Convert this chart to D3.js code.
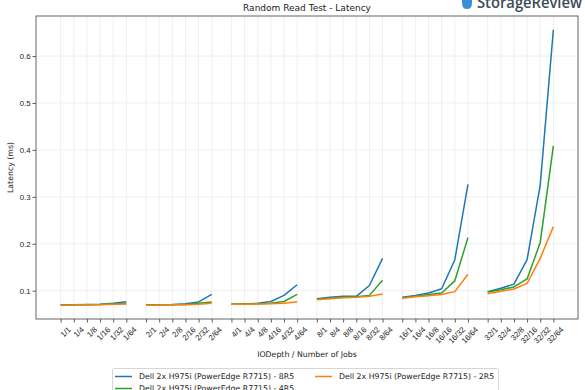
<!DOCTYPE html>
<html>
<head>
<meta charset="utf-8">
<script src="https://cdn.jsdelivr.net/npm/d3@7"></script>
<style>
  body { margin: 0; background: #fff; }
  svg { display: block; font-family: "DejaVu Sans", sans-serif; }
</style>
</head>
<body>
<svg id="chart"></svg>
<script>
let width = 585;
let height = 390;

// IODepth groups and job counts
let depths = ['1', '2', '4', '8', '16', '32'];
let jobs = ['1', '4', '8', '16', '32', '64'];
let categories = depths.flatMap(d => jobs.map(j => d + '/' + j));

let seriesNames = [
  'Dell 2x H975i (PowerEdge R7715) - 8R5',
  'Dell 2x H975i (PowerEdge R7715) - 4R5',
  'Dell 2x H975i (PowerEdge R7715) - 2R5'
];
let colors = ['#1f77b4', '#2ca02c', '#ff7f0e'];

let lat8R5 = [
  0.0695, 0.070, 0.0705, 0.071, 0.073, 0.0765,
  0.0695, 0.070, 0.0705, 0.072, 0.076, 0.092,
  0.071, 0.0715, 0.073, 0.077, 0.090, 0.1126,
  0.083, 0.086, 0.088, 0.088, 0.111, 0.169,
  0.086, 0.090, 0.095, 0.104, 0.166, 0.3265,
  0.098, 0.105, 0.114, 0.166, 0.325, 0.656
];
let lat4R5 = [
  0.0695, 0.070, 0.070, 0.0705, 0.072, 0.0725,
  0.0695, 0.070, 0.070, 0.0705, 0.073, 0.076,
  0.071, 0.0715, 0.072, 0.073, 0.077, 0.092,
  0.082, 0.084, 0.086, 0.087, 0.090, 0.122,
  0.085, 0.088, 0.092, 0.095, 0.121, 0.213,
  0.097, 0.102, 0.108, 0.125, 0.2025, 0.4085
];
let lat2R5 = [
  0.069, 0.0695, 0.070, 0.070, 0.071, 0.0716,
  0.069, 0.0695, 0.070, 0.070, 0.071, 0.073,
  0.071, 0.071, 0.0715, 0.072, 0.073, 0.0765,
  0.0807, 0.083, 0.085, 0.086, 0.088, 0.093,
  0.084, 0.087, 0.089, 0.092, 0.098, 0.135,
  0.0935, 0.099, 0.1035, 0.1155, 0.169, 0.2365
];
let allSeries = [lat8R5, lat4R5, lat2R5];

let yTicks = [0.1, 0.2, 0.3, 0.4, 0.5, 0.6];

let margin = { left: 36, right: 7, top: 16, bottom: 71 };
let plotW = width - margin.left - margin.right;
let plotH = height - margin.top - margin.bottom;

// position of each category: groups separated by a gap of 1.5 steps
let groupStep = jobs.length + 0.5;
let pos = categories.map((c, i) => Math.floor(i / jobs.length) * groupStep + (i % jobs.length));
let maxPos = d3.max(pos);
let xPad = maxPos * 0.05;

let xScale = d3.scaleLinear()
  .domain([-xPad, maxPos + xPad])
  .range([margin.left, margin.left + plotW]);

let allVals = allSeries.flat();
let yMin = d3.min(allVals), yMax = d3.max(allVals);
let yPad = (yMax - yMin) * 0.05;
let yScale = d3.scaleLinear()
  .domain([yMin - yPad, yMax + yPad])
  .range([margin.top + plotH, margin.top]);

const svg = d3.select('#chart')
  .attr('width', width)
  .attr('height', height);

// grid
svg.append('g')
  .selectAll('line')
  .data(pos)
  .enter()
  .append('line')
    .attr('x1', d => xScale(d)).attr('x2', d => xScale(d))
    .attr('y1', margin.top).attr('y2', margin.top + plotH)
    .attr('stroke', '#ebebeb').attr('stroke-width', 0.8);

svg.append('g')
  .selectAll('line')
  .data(yTicks)
  .enter()
  .append('line')
    .attr('x1', margin.left).attr('x2', margin.left + plotW)
    .attr('y1', d => yScale(d)).attr('y2', d => yScale(d))
    .attr('stroke', '#ebebeb').attr('stroke-width', 0.8);

// lines, one path per depth group so groups stay separate
let line = d3.line()
  .x(d => xScale(d.x))
  .y(d => yScale(d.y));

allSeries.forEach((vals, s) => {
  depths.forEach((dep, g) => {
    let pts = jobs.map((j, k) => {
      let i = g * jobs.length + k;
      return { x: pos[i], y: vals[i] };
    });
    svg.append('path')
      .datum(pts)
      .attr('fill', 'none')
      .attr('stroke', colors[s])
      .attr('stroke-width', 1.5)
      .attr('stroke-linejoin', 'round')
      .attr('d', line);
  });
});

// axes
let xAxis = d3.axisBottom(xScale)
  .tickValues(pos)
  .tickFormat((d, i) => categories[i])
  .tickSize(3.5)
  .tickPadding(2);

let gx = svg.append('g')
  .attr('transform', `translate(0,${margin.top + plotH})`)
  .call(xAxis);
gx.select('.domain').remove();
gx.selectAll('.tick line').attr('stroke', '#333').attr('stroke-width', 0.8);
gx.selectAll('.tick text')
  .attr('font-size', 7.8)
  .attr('fill', '#222')
  .attr('text-anchor', 'end')
  .attr('dy', '0.6em')
  .attr('transform', 'translate(3,4) rotate(-45)');

let yAxis = d3.axisLeft(yScale)
  .tickValues(yTicks)
  .tickFormat(d3.format('.1f'))
  .tickSize(3.5)
  .tickPadding(2);

let gy = svg.append('g')
  .attr('transform', `translate(${margin.left},0)`)
  .call(yAxis);
gy.select('.domain').remove();
gy.selectAll('.tick line').attr('stroke', '#333').attr('stroke-width', 0.8);
gy.selectAll('.tick text').attr('font-size', 7.8).attr('fill', '#222');

// frame
svg.append('rect')
  .attr('x', margin.left).attr('y', margin.top)
  .attr('width', plotW).attr('height', plotH)
  .attr('fill', 'none').attr('stroke', '#555').attr('stroke-width', 0.9);

// titles
svg.append('text')
  .attr('x', margin.left + plotW / 2).attr('y', 11)
  .attr('text-anchor', 'middle')
  .attr('font-size', 9)
  .attr('fill', '#222')
  .text('Random Read Test - Latency');

svg.append('text')
  .attr('x', margin.left + plotW / 2).attr('y', 357)
  .attr('text-anchor', 'middle')
  .attr('font-size', 7.8)
  .attr('fill', '#222')
  .text('IODepth / Number of Jobs');

svg.append('text')
  .attr('transform', `translate(10,${margin.top + plotH / 2}) rotate(-90)`)
  .attr('text-anchor', 'middle')
  .attr('dy', '0.35em')
  .attr('font-size', 7.8)
  .attr('fill', '#222')
  .text('Latency (ms)');

// logo
let logo = svg.append('g');
logo.append('path')
  .attr('d', 'M462,-2 L472,-2 L472,3 Q472,9 467,9 Q462,9 462,3 Z')
  .attr('fill', '#3d8fd8');
logo.append('text')
  .attr('x', 477).attr('y', 8)
  .attr('font-family', '"Open Sans", sans-serif')
  .attr('font-weight', 600)
  .attr('font-size', 16)
  .attr('textLength', 105)
  .attr('lengthAdjust', 'spacingAndGlyphs')
  .attr('fill', '#3c4b5a')
  .text('StorageReview');

// legend
let legend = svg.append('g');
legend.append('rect')
  .attr('x', 112.5).attr('y', 368.5)
  .attr('width', 386).attr('height', 30)
  .attr('rx', 2)
  .attr('fill', '#fff').attr('stroke', '#ccc').attr('stroke-width', 0.8);

let legendPos = [
  { x: 115, y: 376.5 },
  { x: 115, y: 388.5 },
  { x: 315, y: 376.5 }
];
seriesNames.forEach((name, i) => {
  let p = legendPos[i];
  legend.append('line')
    .attr('x1', p.x).attr('x2', p.x + 17)
    .attr('y1', p.y).attr('y2', p.y)
    .attr('stroke', colors[i]).attr('stroke-width', 1.5);
  legend.append('text')
    .attr('x', p.x + 24).attr('y', p.y)
    .attr('dy', '0.35em')
    .attr('font-size', 7.8)
    .attr('fill', '#222')
    .text(name);
});
</script>
</body>
</html>
